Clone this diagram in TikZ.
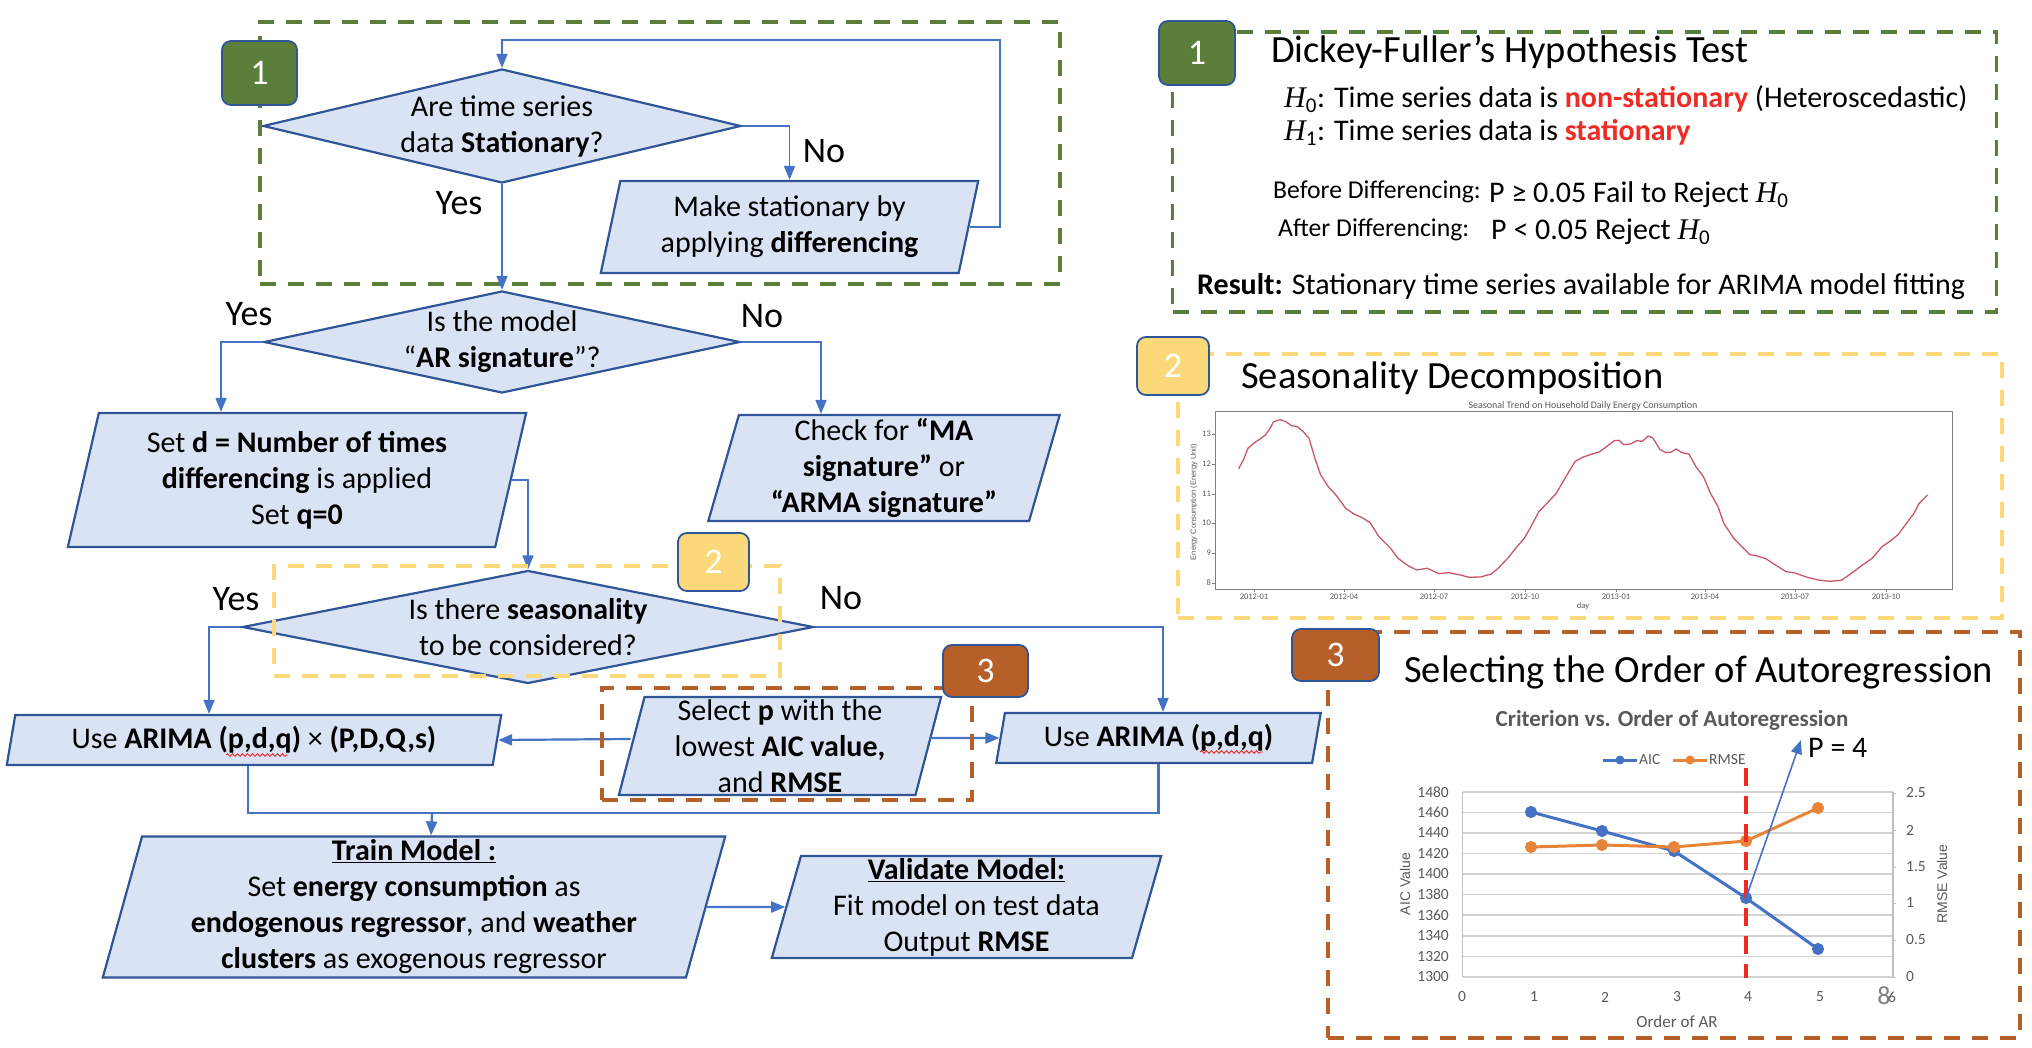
\documentclass[tikz,border=0pt]{standalone}
\usepackage{fontspec}
\setmainfont{Carlito}
\newfontfamily\axisfont{Liberation Sans}
\newfontfamily\hypfont{Liberation Serif}
\usetikzlibrary{shapes.geometric,arrows.meta,positioning,decorations.pathmorphing}
\definecolor{boxfill}{HTML}{DAE3F3}
\definecolor{boxline}{HTML}{2F5597}
\definecolor{flowline}{HTML}{4472C4}
\definecolor{stepgreen}{HTML}{5B7F3A}
\definecolor{stepyellow}{HTML}{FBD97A}
\definecolor{stepbrown}{HTML}{B65F28}
\definecolor{chartgray}{HTML}{595959}
\definecolor{chartorange}{HTML}{E8833A}
\definecolor{hotred}{HTML}{EE2B24}
\definecolor{trendred}{HTML}{C8566B}
\newcommand{\hypo}[1]{{\hypfont\itshape H}\textsubscript{#1}}

\begin{document}
\begin{tikzpicture}[x=1pt, y=-1pt, on grid]
    \tikzstyle{decision} = [diamond, draw=boxline, fill=boxfill, line width=2.2pt, aspect=4.5, inner sep=-7pt, align=center, font=\fontsize{30}{36}\selectfont]
    \tikzstyle{process} = [trapezium, trapezium left angle=76.5, trapezium right angle=103.5, trapezium stretches=true, draw=boxline, fill=boxfill, line width=2.2pt, inner sep=0pt, align=center, font=\fontsize{30}{36}\selectfont]
    \tikzstyle{arrow} = [draw=flowline, line width=1.6pt, -{Triangle[length=14pt,width=11pt]}]
    \tikzstyle{wideline} = [draw=flowline, line width=2.2pt]
    \tikzstyle{answer} = [font=\fontsize{36}{40}\selectfont]
    \tikzstyle{regionbox} = [draw, line width=3.6pt, dash pattern=on 16pt off 12pt, minimum width=10pt, inner sep=0pt]
    \tikzstyle{badge} = [draw=boxline, line width=1.8pt, rounded corners=9pt, text=white, inner sep=0pt, font=\fontsize{36}{40}\selectfont]
    \tikzstyle{paneltitle} = [anchor=west, inner sep=0pt, font=\fontsize{38.5}{42}\selectfont]
    \tikzstyle{paneltext} = [anchor=west, inner sep=0pt, font=\fontsize{30}{34}\selectfont]
    \tikzstyle{smalltext} = [anchor=west, inner sep=0pt, font=\fontsize{25.7}{30}\selectfont]
    \tikzstyle{ticktext} = [inner sep=0pt, text=chartgray, font=\fontsize{15.5}{18}\selectfont]
    \tikzstyle{trendtext} = [inner sep=0pt, text=chartgray, font=\fontsize{8.5}{10}\selectfont]
    \tikzstyle{squiggle} = [draw=hotred, line width=0.9pt, decorate, decoration={snake, amplitude=1.3pt, segment length=5pt}]

    \useasboundingbox (0,0) rectangle (2032,1048);

    % Stationarity check
    \node[decision, minimum width=478pt, minimum height=114pt] (stationary) at (502,126) {Are time series\\data \textbf{Stationary}?};
    \node[process, minimum width=379pt, minimum height=92pt, below right=101pt and 287.5pt of stationary] (differencing) {Make stationary by\\applying \textbf{differencing}};
    \node[answer, below left=77pt and 43pt of stationary] (yesStationary) {Yes};
    \node[answer, below right=25pt and 322pt of stationary] (noStationary) {No};

    % AR signature
    \node[decision, minimum width=476pt, minimum height=102pt, below=216pt of stationary] (signature) {Is the model\\“\textbf{AR signature}”?};
    \node[process, minimum width=460pt, minimum height=134pt, below left=138pt and 205pt of signature] (setd) {Set \textbf{d = Number of times}\\\textbf{differencing} is applied\\Set \textbf{q=0}};
    \node[process, minimum width=352pt, minimum height=106pt, below right=126pt and 382pt of signature] (checkma) {Check for \textbf{“MA}\\\textbf{signature”} or\\\textbf{“ARMA signature”}};
    \node[answer, above left=28pt and 253pt of signature] (yesSignature) {Yes};
    \node[answer, above right=26pt and 260pt of signature] (noSignature) {No};

    % Seasonality
    \node[decision, minimum width=571pt, minimum height=113pt, below right=285pt and 26pt of signature] (seasonal) {Is there \textbf{seasonality}\\to be considered?};
    \node[answer, above left=28pt and 292pt of seasonal] (yesSeasonal) {Yes};
    \node[answer, above right=29pt and 313pt of seasonal] (noSeasonal) {No};

    % ARIMA models
    \node[process, minimum width=496pt, minimum height=50pt, below left=113pt and 274pt of seasonal] (arimas) {Use \textbf{ARIMA (p,d,q)} × \textbf{(P,D,Q,s)}};
    \node[process, minimum width=325pt, minimum height=50pt, below right=111pt and 630.5pt of seasonal] (arima) {Use \textbf{ARIMA (p,d,q)}};
    \node[process, minimum width=323pt, minimum height=98pt, inner ysep=-5pt, below right=119pt and 252pt of seasonal] (selectp) {Select \textbf{p} with the\\lowest \textbf{AIC value,}\\and \textbf{RMSE}};
    \draw[squiggle] (226,755) -- (288,755);
    \draw[squiggle] (1200,752) -- (1263,752);

    % Train and validate
    \node[process, minimum width=624pt, minimum height=141pt, below left=280pt and 114pt of seasonal] (train) {\underline{\textbf{Train Model :}}\\Set \textbf{energy consumption} as\\\textbf{endogenous regressor}, and \textbf{weather}\\\textbf{clusters} as exogenous regressor};
    \node[process, minimum width=391pt, minimum height=102pt, right=552.5pt of train] (validate) {\underline{\textbf{Validate Model:}}\\Fit model on test data\\Output \textbf{RMSE}};

    % Arrows
    \coordinate (looptop) at (1000,40);
    \coordinate (merge) at (432,813);
    \draw[arrow] (stationary.east) -| (differencing.north);
    \draw[arrow] (differencing.east) -| (looptop) -| (stationary.north);
    \draw[arrow] (stationary.south) -- (signature.north);
    \draw[arrow] (signature.west) -| ([xshift=-76pt]setd.north);
    \draw[arrow] (signature.east) -| ([xshift=-63pt]checkma.north);
    \draw[arrow] (setd.east) -| (seasonal.north);
    \draw[arrow] (seasonal.west) -| ([xshift=-45pt]arimas.north);
    \draw[arrow] (seasonal.east) -| ([xshift=4.5pt]arima.north);
    \draw[arrow, wideline] ([yshift=7pt]selectp.west) -- (arimas.east);
    \draw[arrow, wideline] ([yshift=8pt]selectp.east) -- (arima.west);
    \draw[wideline] ([xshift=-6pt]arimas.south) |- (merge);
    \draw[wideline] (arima.south) |- (merge);
    \draw[arrow, wideline] (merge) -- ([xshift=17pt]train.north);
    \draw[arrow, wideline] (train.east) -- (validate.west);

    % Dashed regions on the flow chart
    \node[regionbox, draw=stepgreen, minimum width=800pt, minimum height=262pt] (regionA) at (660,153) {};
    \node[regionbox, draw=stepyellow, minimum width=506pt, minimum height=110pt] (regionB) at (527,621) {};
    \node[regionbox, draw=stepbrown, minimum width=370pt, minimum height=112pt] (regionC) at (787,744) {};
    \node[badge, fill=stepgreen, minimum width=75pt, minimum height=64pt] (badgeA) at (259.5,73) {1};
    \node[badge, fill=stepyellow, minimum width=71pt, minimum height=58pt] (badgeB) at (713.5,562) {2};
    \node[badge, fill=stepbrown, minimum width=85pt, minimum height=52pt] (badgeC) at (985.5,671) {3};

    % Panel 1: hypothesis test
    \node[regionbox, draw=stepgreen, minimum width=824pt, minimum height=280pt] (panelA) at (1584.5,172) {};
    \node[badge, fill=stepgreen, minimum width=76pt, minimum height=64pt] (panelBadgeA) at (1197,53) {1};
    \node[paneltitle] (titleA) at (1271,52) {Dickey-Fuller’s Hypothesis Test};
    \node[paneltext] (hzero) at (1284,99) {\hypo{0}: Time series data is \textcolor{hotred}{\textbf{non-stationary}} (Heteroscedastic)};
    \node[paneltext] (hone) at (1284,132) {\hypo{1}: Time series data is \textcolor{hotred}{\textbf{stationary}}};
    \node[smalltext] (beforeDiff) at (1273,192) {Before Differencing:};
    \node[paneltext] (beforeRule) at (1489,195) {P ≥ 0.05 Fail to Reject \hypo{0}};
    \node[smalltext] (afterDiff) at (1278,230) {After Differencing:};
    \node[paneltext] (afterRule) at (1491,232) {P < 0.05 Reject \hypo{0}};
    \node[paneltext] (resultA) at (1197,287) {\textbf{Result:} Stationary time series available for ARIMA model fitting};

    % Panel 2: seasonal trend
    \node[regionbox, draw=stepyellow, minimum width=824pt, minimum height=264pt] (panelB) at (1590,486) {};
    \node[badge, fill=stepyellow, minimum width=72pt, minimum height=58pt] (panelBadgeB) at (1173,366) {2};
    \node[paneltitle] (titleB) at (1241,378) {Seasonality Decomposition};
    \node[trendtext, font=\fontsize{10}{12}\selectfont] (trendTitle) at (1583,406) {Seasonal Trend on Household Daily Energy Consumption};
    \draw[draw=gray, line width=1pt] (1215,412) rectangle (1952,589);
    \foreach \v/\ypos in {13/434,12/464,11/494,10/523,9/553,8/583} {
        \draw[gray, line width=0.6pt] (1212,\ypos) -- (1215,\ypos);
        \node[trendtext, anchor=east] (trendY\v) at (1211,\ypos) {\v};
    }
    \foreach \t/\xpos in {2012-01/1254,2012-04/1344,2012-07/1434,2012-10/1525,2013-01/1616,2013-04/1705,2013-07/1795,2013-10/1886} {
        \draw[gray, line width=0.6pt] (\xpos,589) -- (\xpos,592);
        \node[trendtext] (trendX\t) at (\xpos,597) {\t};
    }
    \node[trendtext] (trendDay) at (1583,606) {day};
    \node[trendtext, rotate=90, font=\axisfont\fontsize{7.5}{9}\selectfont] (trendYlabel) at (1194,502) {Energy Consumption (Energy Unit)};
    \begin{scope}[shift={(1120,330)}, xscale=0.5817, yscale=0.3333]
        \draw[trendred, line width=1.3pt, line join=round] (204,416) -- (212,390) -- (220,355) -- (232,337) -- (240,328) -- (250,315) -- (258,295) -- (264,275) -- (275,269) -- (285,275) -- (295,287) -- (305,290) -- (315,305) -- (325,325) -- (335,385) -- (345,435) -- (358,470) -- (372,497) -- (388,535) -- (403,553) -- (415,562) -- (430,578) -- (445,620) -- (465,655) -- (478,685) -- (495,707) -- (510,720) -- (528,715) -- (548,731) -- (565,728) -- (585,735) -- (600,742) -- (620,741) -- (638,732) -- (650,715) -- (668,682) -- (680,655) -- (695,625) -- (708,585) -- (720,545) -- (735,518) -- (750,490) -- (765,445) -- (782,395) -- (795,382) -- (810,373) -- (825,365) -- (840,345) -- (850,332) -- (858,331) -- (866,344) -- (878,342) -- (888,332) -- (898,334) -- (908,318) -- (916,324) -- (928,358) -- (938,368) -- (948,366) -- (956,357) -- (966,368) -- (978,372) -- (990,410) -- (1003,440) -- (1015,490) -- (1028,530) -- (1038,580) -- (1055,625) -- (1070,652) -- (1083,674) -- (1095,678) -- (1110,686) -- (1125,703) -- (1145,725) -- (1160,729) -- (1180,741) -- (1200,750) -- (1220,754) -- (1240,751) -- (1255,733) -- (1275,707) -- (1293,685) -- (1310,650) -- (1325,632) -- (1337,615) -- (1352,580) -- (1365,550) -- (1373,522) -- (1388,495);
    \end{scope}

    % Panel 3: order of autoregression
    \node[regionbox, draw=stepbrown, minimum width=692pt, minimum height=406pt] (panelC) at (1674,835) {};
    \node[badge, fill=stepbrown, minimum width=87pt, minimum height=52pt] (panelBadgeC) at (1335.5,655) {3};
    \node[paneltitle] (titleC) at (1404,672) {Selecting the Order of Autoregression};
    \node[ticktext, font=\fontsize{23}{26}\bfseries\selectfont] (chartTitle) at (1672,720) {Criterion vs. Order of Autoregression};
    \foreach \v/\ypos in {1480/792,1460/812.5,1440/833,1420/853.5,1400/874,1380/894.5,1360/915,1340/936,1320/956.5,1300/977} {
        \draw[gray!35, line width=1.4pt] (1462.5,\ypos) -- (1893,\ypos);
        \node[ticktext, anchor=east] (aicTick\v) at (1449,\ypos) {\v};
    }
    \draw[gray!50, line width=1.2pt] (1462.5,792) -- (1462.5,977) (1893,792) -- (1893,977);
    \foreach \v/\ypos in {2.5/793,2/830,1.5/867,1/903,0.5/940,0/977} {
        \draw[gray!50, line width=1pt] (1893,\ypos) -- (1896,\ypos);
        \node[ticktext, anchor=west] (rmseTick\v) at (1906,\ypos) {\v};
    }
    \foreach \v/\xpos in {0/1462,1/1534,2/1605,3/1677,4/1748,5/1820,6/1892} {
        \node[ticktext] (orderTick\v) at (\xpos,997) {\v};
    }
    \node[ticktext, font=\fontsize{26}{28}\selectfont, text=gray] (pageNo) at (1884,996) {8};
    \node[ticktext, font=\fontsize{17}{20}\selectfont] (orderLabel) at (1677,1022) {Order of AR};
    \node[ticktext, rotate=90, font=\axisfont\fontsize{14}{16}\selectfont] (aicLabel) at (1405,884) {AIC Value};
    \node[ticktext, rotate=90, font=\axisfont\fontsize{14}{16}\selectfont] (rmseLabel) at (1942,884) {RMSE Value};
    \draw[flowline, line width=3pt] (1603,760) -- (1637,760);
    \fill[flowline] (1620,760) circle (4.5pt);
    \node[ticktext, anchor=west] (legendAic) at (1639,760) {AIC};
    \draw[chartorange, line width=3pt] (1673,760) -- (1707,760);
    \fill[chartorange] (1690,760) circle (4.5pt);
    \node[ticktext, anchor=west] (legendRmse) at (1709,760) {RMSE};
    \draw[flowline, line width=3pt, mark size=4.5pt] plot[mark=*, mark options={fill=flowline, draw=flowline}] coordinates {(1531,812) (1602,831) (1674,851) (1746,898) (1818,949)};
    \draw[chartorange, line width=3pt, mark size=4.5pt] plot[mark=*, mark options={fill=chartorange, draw=chartorange}] coordinates {(1531,847) (1602,845) (1674,847) (1746,841) (1818,808)};
    \draw[hotred, line width=3.2pt, dash pattern=on 18pt off 10pt] (1746,768) -- (1746,978);
    \coordinate (aicFour) at (1746,898);
    \node[anchor=west, inner sep=0pt, font=\fontsize{30}{34}\selectfont] (pvalue) at (1808,748) {P = 4};
    \draw[arrow] (aicFour) -- ([shift={(-7pt,8pt)}]pvalue.west);
\end{tikzpicture}
\end{document}
